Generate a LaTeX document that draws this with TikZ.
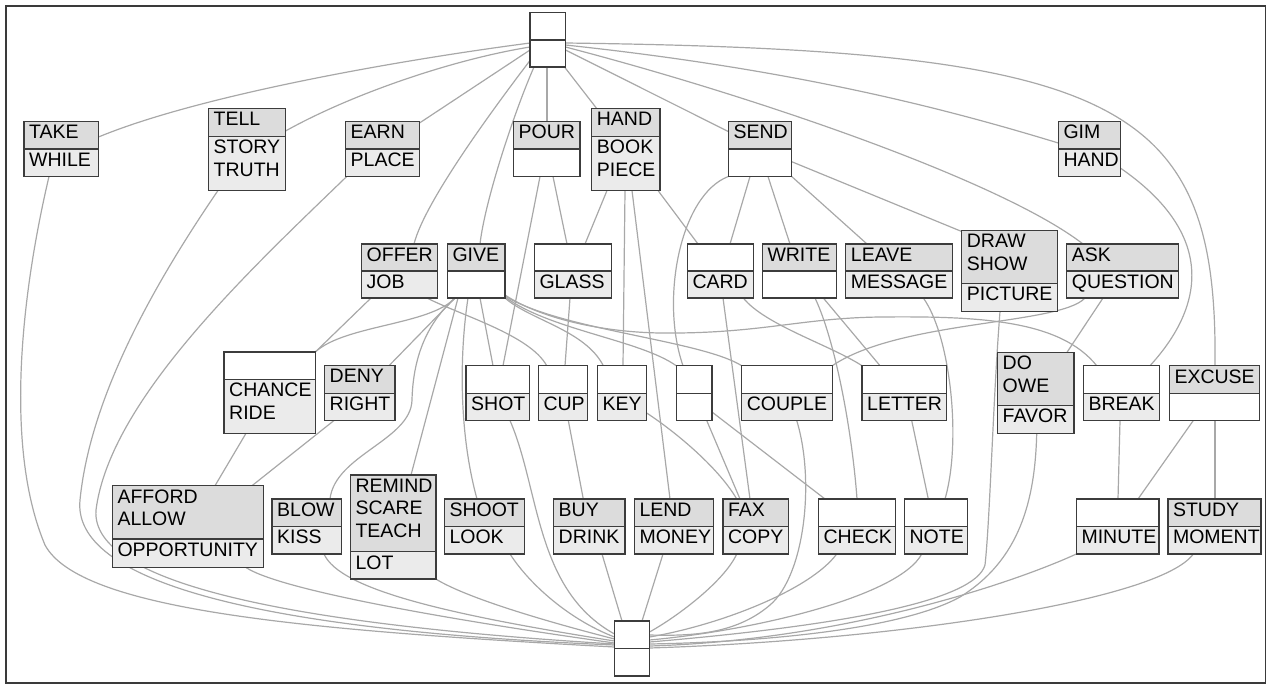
\documentclass[tikz,border=0pt]{standalone}
\usepackage{fontspec}
\setmainfont{Liberation Sans}
\definecolor{attr}{HTML}{DCDCDC}
\definecolor{obj}{HTML}{EBEBEB}
\definecolor{boxc}{HTML}{3C3C3C}
\definecolor{edgec}{HTML}{A8A8A8}
\definecolor{framec}{HTML}{3A3A3A}
\pgfdeclarelayer{bg}
\pgfsetlayers{bg,main}
% #1 name, #2 x, #3 y (top), #4 width, #5 top height, #6 bottom height, #7 top text, #8 bottom text
\newcommand\cpt[8]{%
  \def\cpttf{attr}\if\relax\detokenize{#7}\relax\def\cpttf{white}\fi
  \def\cptbfc{obj}\if\relax\detokenize{#8}\relax\def\cptbfc{white}\fi
  \path[fill=\cpttf] (#2,#3) rectangle ++(#4,#5);
  \path[fill=\cptbfc] (#2,{#3+#5}) rectangle ++(#4,#6);
  \draw[bline] (#2,{#3+#5}) -- ++(#4,0);
  \node[cbox, minimum width=#4, minimum height={#5+#6}, anchor=north west] (#1) at (#2,#3) {};
  \node[ctext] at ({#2+5},{#3+3.6}) {#7};
  \node[ctext] at ({#2+5},{#3+#5+3.6}) {#8};
}
\begin{document}
\begin{tikzpicture}[x=1pt,y=-1pt,
  conn/.style={draw=edgec, line width=1.2pt},
  cbox/.style={draw=boxc, line width=1.4pt, inner sep=0pt, outer sep=0pt},
  bline/.style={draw=boxc, line width=1.4pt},
  ctext/.style={anchor=north west, inner sep=0pt, align=left, font=\fontsize{19.5}{22.7}\selectfont}]
\useasboundingbox (0,0) rectangle (1271,686);
\draw[framec, line width=1.5pt] (6,6) rectangle (1265.5,683);

\cpt{top}{530}{12.5}{35.5}{27.5}{27}{}{}
\cpt{take}{24}{121.5}{74.5}{27.5}{27.5}{TAKE}{WHILE}
\cpt{tell}{208.5}{108.5}{77}{28}{54}{TELL}{STORY\\TRUTH}
\cpt{earn}{345.5}{121.5}{74}{27.5}{27.5}{EARN}{PLACE}
\cpt{pour}{513.5}{121.5}{66.5}{27.5}{27.5}{POUR}{}
\cpt{hand}{591.7}{108.5}{68.3}{28}{54}{HAND}{BOOK\\PIECE}
\cpt{send}{728.3}{121.5}{63.4}{27.5}{27.5}{SEND}{}
\cpt{gim}{1058.3}{121.5}{62}{27.5}{27.5}{GIM}{HAND}
\cpt{offer}{361.5}{244}{76}{27}{27}{OFFER}{JOB}
\cpt{give}{447.3}{244}{57.7}{27}{27}{GIVE}{}
\cpt{glass}{534.3}{244}{77}{27}{27}{}{GLASS}
\cpt{card}{687.3}{244}{66}{27}{27}{}{CARD}
\cpt{write}{762.3}{244}{74.4}{27}{27}{WRITE}{}
\cpt{leave}{845.7}{244}{107}{27}{27}{LEAVE}{MESSAGE}
\cpt{drw}{961.7}{230.5}{95.6}{53}{28}{DRAW\\SHOW}{PICTURE}
\cpt{ask}{1066.7}{244}{112}{27}{27}{ASK}{QUESTION}
\cpt{chance}{224}{351.8}{91.5}{27.5}{54}{}{CHANCE\\RIDE}
\cpt{deny}{324.5}{365.7}{70.5}{27.5}{27.3}{DENY}{RIGHT}
\cpt{shot}{466}{365.7}{63.3}{27.5}{27.3}{}{SHOT}
\cpt{cup}{538.3}{365.7}{49.4}{27.5}{27.3}{}{CUP}
\cpt{key}{597.3}{365.7}{49.4}{27.5}{27.3}{}{KEY}
\cpt{emp}{676.2}{365.7}{35.8}{27.5}{27.3}{}{}
\cpt{couple}{741.7}{365.7}{90.6}{27.5}{27.3}{}{COUPLE}
\cpt{letter}{862}{365.7}{84.7}{27.5}{27.3}{}{LETTER}
\cpt{dow}{997.5}{352.3}{76.3}{53}{28.4}{DO\\OWE}{FAVOR}
\cpt{brk}{1083.3}{365.7}{76.3}{27.5}{27.3}{}{BREAK}
\cpt{excuse}{1169.3}{365.7}{90}{27.5}{27.3}{EXCUSE}{}
\cpt{afford}{112.3}{485.7}{151}{53.3}{28.5}{AFFORD\\ALLOW}{OPPORTUNITY}
\cpt{blow}{272}{499}{69.5}{27.5}{27.5}{BLOW}{KISS}
\cpt{remind}{350.3}{475}{85.5}{76.7}{27.3}{REMIND\\SCARE\\TEACH}{LOT}
\cpt{shoot}{444.3}{499}{80}{27.5}{27.5}{SHOOT}{LOOK}
\cpt{buy}{553.5}{499}{71.5}{27.5}{27.5}{BUY}{DRINK}
\cpt{lend}{634.3}{499}{79}{27.5}{27.5}{LEND}{MONEY}
\cpt{fax}{722.8}{499}{65.7}{27.5}{27.5}{FAX}{COPY}
\cpt{check}{818.4}{499}{76.8}{27.5}{27.5}{}{CHECK}
\cpt{note}{904.4}{499}{63}{27.5}{27.5}{}{NOTE}
\cpt{minute}{1076.3}{499}{82.8}{27.5}{27.5}{}{MINUTE}
\cpt{study}{1167.8}{499}{93.3}{27.5}{27.5}{STUDY}{MOMENT}
\cpt{bot}{614.5}{621}{35}{27.5}{27.5}{}{}

\begin{pgfonlayer}{bg}
% from top
\draw[conn] ([yshift=-30.5]top.north west) .. controls (400,60) and (200,95) .. ([yshift=-15.5]take.north east);
\draw[conn] ([yshift=-34.5]top.north west) .. controls (450,60) and (350,95) .. ([yshift=-22.5]tell.north east);
\draw[conn] ([yshift=-37.5]top.north west) -- ([yshift=-1.5]earn.north east);
\draw[conn] ([yshift=-48]top.north west) .. controls (500,100) and (425,200) .. ([xshift=52.5]offer.north west);
\draw[conn] ([xshift=4]top.south west) .. controls (515,110) and (485,200) .. ([xshift=32.7]give.north west);
\draw[conn] ([xshift=17]top.south west) -- ([xshift=33.5]pour.north west);
\draw[conn] ([xshift=-1]top.south east) -- ([xshift=5]hand.north west);
\draw[conn] ([yshift=-37.5]top.north east) -- ([yshift=-10]send.north west);
\draw[conn] ([yshift=-34.5]top.north east) .. controls (750,95) and (1000,180) .. ([xshift=16.3]ask.north west);
\draw[conn] ([yshift=-32.5]top.north east) .. controls (800,70) and (950,110) .. ([yshift=-21.5]gim.north west);
\draw[conn] ([yshift=-30.5]top.north east) .. controls (1120,50) and (1218,100) .. ([xshift=45.7]excuse.north west);
% hand, pour, send
\draw[conn] ([xshift=15.3]hand.south west) -- ([xshift=50.7]glass.north west);
\draw[conn] ([xshift=33.3]hand.south west) -- ([xshift=25.7]key.north west);
\draw[conn] ([xshift=40.3]hand.south west) -- ([xshift=35.7]lend.north west);
\draw[conn] ([xshift=66.3]hand.south west) -- ([xshift=10.7]card.north west);
\draw[conn] ([xshift=26.5]pour.south west) -- ([xshift=37]shot.north west);
\draw[conn] ([xshift=39.5]pour.south west) -- ([xshift=32.7]glass.north west);
\draw[conn] ([xshift=21.7]send.south west) -- ([xshift=42.7]card.north west);
\draw[conn] ([xshift=39.7]send.south west) -- ([xshift=27.7]write.north west);
\draw[conn] (send.south east) -- ([xshift=21.3]leave.north west);
\draw[conn] ([yshift=-40.2]send.north east) -- ([yshift=-1]drw.north west);
\draw[conn] (send.south west) .. controls (680,195) and (660,300) .. ([xshift=6.8]emp.north west);
% offer, give
\draw[conn] ([xshift=9.5]offer.south west) -- (chance.north east);
\draw[conn] ([xshift=65.5]offer.south west) .. controls (460,315) and (530,335) .. ([xshift=8.4]cup.north west);
\draw[conn] ([xshift=7.7]give.south west) .. controls (430,325) and (345,325) .. (chance.north east);
\draw[conn] ([xshift=7.7]give.south west) -- ([xshift=64.5]deny.north west);
\draw[conn] ([xshift=7.7]give.south west) .. controls (425,325) and (413,360) .. (412,400) .. controls (411,440) and (335,455) .. ([xshift=58]blow.north west);
\draw[conn] ([xshift=10.7]give.south west) -- ([xshift=60.7]remind.north west);
\draw[conn] ([xshift=20.7]give.south west) .. controls (460,350) and (458,430) .. ([xshift=32.7]shoot.north west);
\draw[conn] ([xshift=32.7]give.south west) -- ([xshift=27]shot.north west);
\draw[conn] (give.south east) .. controls (530,320) and (585,330) .. ([xshift=6]key.north west);
\draw[conn] ([yshift=1]give.south east) .. controls (550,330) and (640,340) .. (emp.north west);
\draw[conn] ([yshift=2]give.south east) .. controls (560,330) and (700,340) .. (couple.north west);
\draw[conn] ([yshift=3]give.south east) .. controls (540,318) and (600,332) .. (660,333) .. controls (760,334) and (800,318) .. (880,317) .. controls (980,316) and (1060,320) .. ([xshift=13.4]brk.north west);
% ask, gim
\draw[conn] ([xshift=18.3]ask.south west) .. controls (1060,325) and (900,320) .. (couple.north east);
\draw[conn] ([xshift=36.3]ask.south west) -- ([xshift=69.5]dow.north west);
\draw[conn] ([yshift=-46.5]gim.north east) .. controls (1210,230) and (1210,300) .. ([xshift=66.7]brk.north west);
% third row
\draw[conn] ([xshift=35.7]card.south west) -- ([xshift=27.2]fax.north west);
\draw[conn] ([xshift=56]card.south west) .. controls (765,325) and (830,345) .. (letter.north west);
\draw[conn] ([xshift=52.7]write.south west) .. controls (835,340) and (852,430) .. ([xshift=38.6]check.north west);
\draw[conn] ([xshift=61]write.south west) -- ([xshift=18]letter.north west);
\draw[conn] ([xshift=77.6]leave.south west) .. controls (950,335) and (962,440) .. ([xshift=40.6]note.north west);
\draw[conn] ([xshift=35.7]glass.south west) -- ([xshift=26.7]cup.north west);
% fourth row
\draw[conn] ([xshift=49.7]letter.south west) -- ([xshift=23.9]note.north west);
\draw[conn] ([xshift=30.5]emp.south west) -- ([xshift=17.2]fax.north west);
\draw[conn] ([yshift=-46.3]emp.north east) -- ([xshift=6.6]check.north west);
\draw[conn] ([yshift=-47.3]key.north east) .. controls (680,435) and (720,470) .. ([xshift=13.9]fax.north west);
\draw[conn] ([xshift=30]cup.south west) -- ([xshift=29.8]buy.north west);
\draw[conn] ([xshift=22]chance.south west) -- ([xshift=102.7]afford.north west);
\draw[conn] ([xshift=9.5]deny.south west) -- ([xshift=139.7]afford.north west);
\draw[conn] ([xshift=36.7]brk.south west) -- ([xshift=41.7]minute.north west);
\draw[conn] ([xshift=24]excuse.south west) -- ([xshift=61.7]minute.north west);
\draw[conn] ([xshift=45.7]excuse.south west) -- ([xshift=47.2]study.north west);
% to bottom, right side
\draw[conn] ([xshift=48.5]buy.south west) -- ([xshift=7.5]bot.north west);
\draw[conn] ([xshift=28.7]lend.south west) -- ([xshift=27.5]bot.north west);
\draw[conn] ([xshift=13.9]fax.south west) .. controls (725,580) and (680,615) .. ([yshift=-11]bot.north east);
\draw[conn] ([xshift=18.3]check.south west) .. controls (810,590) and (720,625) .. ([yshift=-16]bot.north east);
\draw[conn] ([xshift=17.3]note.south west) .. controls (900,595) and (760,630) .. ([yshift=-19]bot.north east);
\draw[conn] ([xshift=55]couple.south west) .. controls (815,480) and (805,575) .. (770,605) .. controls (735,635) and (690,636) .. ([yshift=-14]bot.north east);
\draw[conn] ([xshift=38.3]drw.south west) .. controls (993,400) and (990,520) .. (985,565) .. controls (975,600) and (850,625) .. ([yshift=-21]bot.north east);
\draw[conn] ([xshift=39.2]dow.south west) .. controls (1035,500) and (1020,560) .. (960,597) .. controls (900,630) and (760,642) .. ([yshift=-23]bot.north east);
\draw[conn] (minute.south west) .. controls (1020,580) and (850,640) .. ([yshift=-25]bot.north east);
\draw[conn] ([xshift=25.5]study.south west) .. controls (1160,600) and (900,640) .. ([yshift=-27]bot.north east);
% to bottom, left side
\draw[conn] ([xshift=25]take.south west) .. controls (20,300) and (5,450) .. (45,545) .. controls (80,610) and (300,630) .. ([yshift=-26]bot.north west);
\draw[conn] ([xshift=9.5]tell.south west) .. controls (150,290) and (90,400) .. (80,500) .. controls (72,580) and (250,630) .. ([yshift=-24]bot.north west);
\draw[conn] ([xshift=1.2]earn.south west) .. controls (250,270) and (110,400) .. (96,510) .. controls (90,585) and (300,625) .. ([yshift=-23]bot.north west);
\draw[conn] ([xshift=133.7]afford.south west) .. controls (280,590) and (450,620) .. ([yshift=-22]bot.north west);
\draw[conn] ([xshift=52]blow.south west) .. controls (340,590) and (450,615) .. ([yshift=-20]bot.north west);
\draw[conn] (remind.south east) .. controls (470,600) and (560,625) .. ([yshift=-18]bot.north west);
\draw[conn] ([xshift=65.7]shoot.south west) .. controls (530,585) and (570,620) .. ([yshift=-16]bot.north west);
\draw[conn] ([xshift=44]shot.south west) .. controls (540,490) and (535,590) .. ([yshift=-13]bot.north west);
\end{pgfonlayer}
\end{tikzpicture}
\end{document}
